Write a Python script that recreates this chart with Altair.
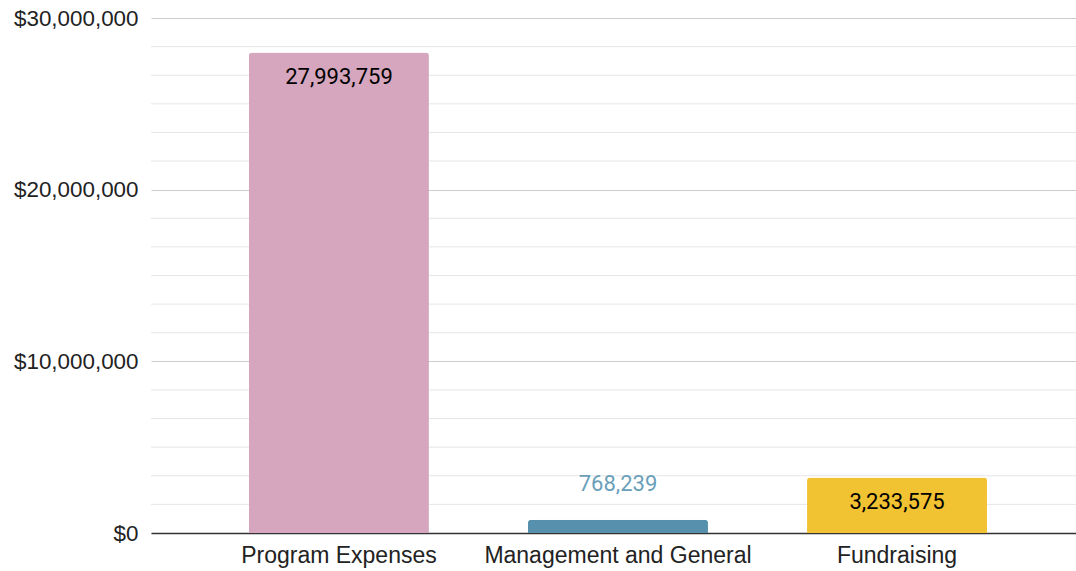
import altair as alt
import pandas as pd

categories = ["Program Expenses", "Management and General", "Fundraising"]
values = [27993759, 768239, 3233575]
bar_colors = ["#d5a6bd", "#5690ad", "#f1c232"]
label_colors = ["#000000", "#6a9fba", "#000000"]
label_inside = [True, False, True]

major_ticks = [0, 10000000, 20000000, 30000000]
minor_ticks = [k * 10000000 / 6 for k in range(1, 18) if k % 6 != 0]

df = pd.DataFrame({
    "category": categories,
    "value": values,
    "color": bar_colors,
    "label_color": label_colors,
    "inside": label_inside,
})
df["label"] = [f"{v:,}" for v in values]
grid_df = pd.DataFrame({"value": minor_ticks})

AXFONT = "Liberation Sans"
LBLFONT = "Roboto"

y_scale = alt.Scale(domain=[0, 30000000], nice=False)
y_axis = alt.Axis(
    title=None, values=major_ticks, format="$,.0f", labelFontSize=22.4,
    labelFont=AXFONT, labelColor="#222222", ticks=False, domain=False,
    gridColor="#cccccc", gridWidth=1, labelPadding=13,
)
x_enc = alt.X(
    "category:N",
    sort=categories,
    scale=alt.Scale(paddingInner=0.355, paddingOuter=0.335, align=0.524),
    axis=alt.Axis(
        title=None, labelAngle=0, labelFontSize=23, labelFont=AXFONT,
        labelColor="#222222", ticks=False, domainColor="#333333",
        domainWidth=1.5, labelPadding=11, labelLimit=0,
    ),
)

minor = alt.Chart(grid_df).mark_rule(color="#e6e6e6", strokeWidth=1).encode(
    y=alt.Y("value:Q", scale=y_scale, axis=y_axis)
)

bars = alt.Chart(df).mark_bar(cornerRadiusTopLeft=3, cornerRadiusTopRight=3).encode(
    x=x_enc,
    y=alt.Y("value:Q", scale=y_scale, axis=y_axis),
    color=alt.Color("color:N", scale=None),
)

text_in = alt.Chart(df).transform_filter("datum.inside").mark_text(
    baseline="middle", dy=25, fontSize=22, font=LBLFONT
).encode(
    x=alt.X("category:N", sort=categories),
    y=alt.Y("value:Q"),
    text="label:N",
    color=alt.Color("label_color:N", scale=None),
)
text_out = alt.Chart(df).transform_filter("!datum.inside").mark_text(
    baseline="middle", dy=-36, fontSize=22, font=LBLFONT
).encode(
    x=alt.X("category:N", sort=categories),
    y=alt.Y("value:Q"),
    text="label:N",
    color=alt.Color("label_color:N", scale=None),
)

chart = alt.layer(minor, bars, text_in, text_out).properties(
    width=925, height=515,
    padding={"left": 151, "top": 18, "right": 0, "bottom": 38},
    autosize=alt.AutoSizeParams(type="none"),
    background="white",
).configure_view(stroke=None)

chart.save("out.html", embed_options={"renderer": "svg", "actions": False})
